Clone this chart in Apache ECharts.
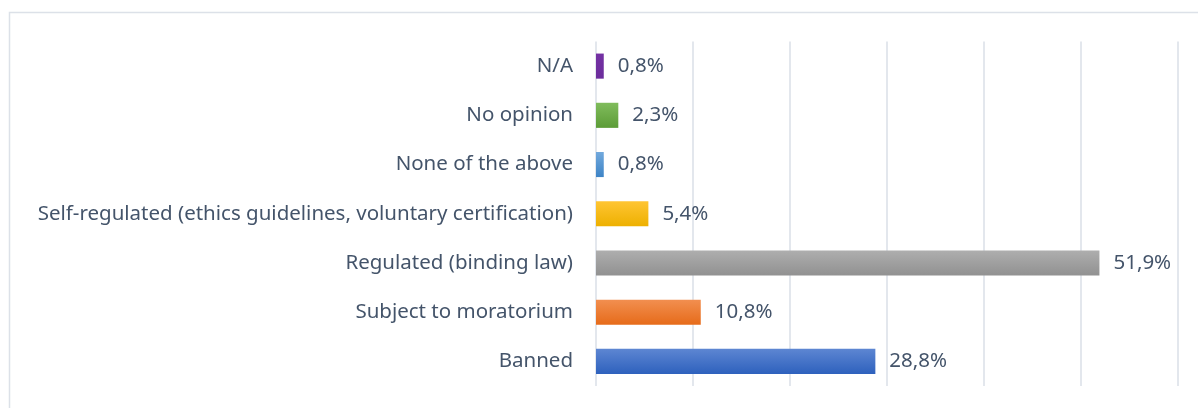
<!DOCTYPE html>
<html>
<head>
<meta charset="utf-8">
<script src="https://cdn.jsdelivr.net/npm/echarts@6/dist/echarts.min.js"></script>
<style>
html,body{margin:0;padding:0;background:#fff;}
#c{width:1198px;height:408px;}
</style>
</head>
<body>
<div id="c"></div>
<script>
var categories = ["Banned","Subject to moratorium","Regulated (binding law)","Self-regulated (ethics guidelines, voluntary certification)","None of the above","No opinion","N/A"];
var values = [28.8, 10.8, 51.9, 5.4, 0.8, 2.3, 0.8];
var valueLabels = ["28,8%","10,8%","51,9%","5,4%","0,8%","2,3%","0,8%"];
var barColors = [
  ["#5D86D2","#2E61BD"],
  ["#F28F50","#E66B1A"],
  ["#AEAEAE","#919191"],
  ["#FFC533","#EDB000"],
  ["#72A9DD","#3D84C6"],
  ["#80BC5C","#5C9C37"],
  ["#7431A3","#6C2D9C"]
];

var chart = echarts.init(document.getElementById('c'));
var txt = '#44546A';
var font = '"Noto Sans", sans-serif';
chart.setOption({
  animation: false,
  graphic: [{
    type: 'rect', silent: true,
    shape: {x: 9.5, y: 12.5, width: 1400, height: 600},
    style: {fill: 'none', stroke: '#DCE1E8', lineWidth: 1.5}
  }],
  grid: {left: 596, right: 20, top: 41.5, bottom: 22, containLabel: false},
  xAxis: {
    type: 'value', min: 0, max: 60, interval: 10,
    axisLabel: {show: false},
    axisLine: {show: false}, axisTick: {show: false},
    splitLine: {show: true, lineStyle: {color: '#DADFE7', width: 1.5}}
  },
  yAxis: {
    type: 'category', data: categories,
    axisLine: {show: false}, axisTick: {show: false},
    axisLabel: {color: txt, fontSize: 20.5, fontFamily: font, margin: 23}
  },
  series: [{
    type: 'bar',
    barCategoryGap: '49%',
    data: values.map(function(v, i){
      return {
        value: v,
        itemStyle: {color: new echarts.graphic.LinearGradient(0,0,0,1,[
          {offset:0,color:barColors[i][0]},{offset:1,color:barColors[i][1]}])}
      };
    }),
    label: {
      show: true, position: 'right', distance: 14,
      color: txt, fontSize: 20.5, fontFamily: font,
      formatter: function(p){ return valueLabels[p.dataIndex]; }
    }
  }]
});
</script>
</body>
</html>
